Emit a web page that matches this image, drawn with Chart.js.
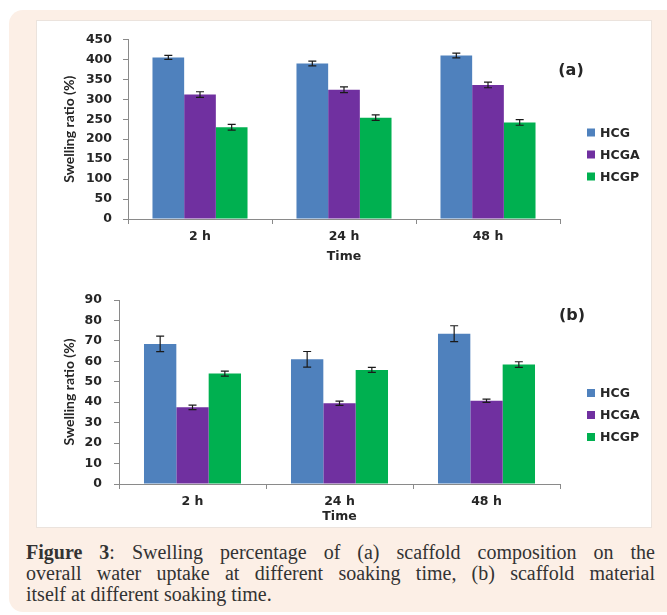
<!DOCTYPE html>
<html>
<head>
<meta charset="utf-8">
<script src="https://cdn.jsdelivr.net/npm/chart.js@4.4.1/dist/chart.umd.min.js"></script>
<style>
  html, body { margin: 0; padding: 0; background: #fff; }
  body { width: 667px; height: 615px; position: relative; overflow: hidden; }
  #frame { position: absolute; left: 9px; top: 10px; width: 700px; height: 602px; background: #fcefe6; border-radius: 14px; }
  #panel { position: absolute; left: 37px; top: 21px; width: 614px; height: 506px; background: #fff; box-shadow: 0 0 0 1px #ebe3dd; }
  .chart-box { position: absolute; left: 37px; width: 614px; }
  #box-a { top: 21px; height: 250px; }
  #box-b { top: 278px; height: 249px; }
  #caption { position: absolute; left: 26px; top: 542px; width: 629px; font-family: 'Liberation Serif', serif; font-size: 20px; line-height: 21px; color: #333; }
  .ln { text-align: justify; text-align-last: justify; }
  .ln.last { text-align-last: left; }
</style>
</head>
<body>
<div id="frame"></div>
<div id="panel"></div>
<div class="chart-box" id="box-a"><canvas id="chart-a"></canvas></div>
<div class="chart-box" id="box-b"><canvas id="chart-b"></canvas></div>
<div id="caption">
  <div class="ln"><b>Figure 3</b>: Swelling percentage of (a) scaffold composition on the</div>
  <div class="ln">overall water uptake at different soaking time, (b) scaffold material</div>
  <div class="ln last">itself at different soaking time.</div>
</div>
<script>
// ---- data ----
const timeLabels = ['2 h', '24 h', '48 h'];
const seriesNames = ['HCG', 'HCGA', 'HCGP'];
const seriesColors = ['#4f81bd', '#7030a0', '#00b050'];

// (a) scaffold composition
const hcgA = [405, 390, 410];
const hcgaA = [312, 324, 336];
const hcgpA = [230, 254, 242];
const hcgErrA = [5, 6, 6];
const hcgaErrA = [7, 7, 7];
const hcgpErrA = [7, 7, 7];

// (b) scaffold material
const hcgB = [68.5, 61, 73.5];
const hcgaB = [37.5, 39.5, 40.7];
const hcgpB = [54, 55.8, 58.4];
const hcgErrB = [3.8, 3.8, 3.9];
const hcgaErrB = [1.1, 1.0, 0.8];
const hcgpErrB = [1.2, 1.2, 1.4];

const TEXT = '#262626';
const AXIS = '#8a8a8a';
const tickFont = { family: 'DejaVu Sans', size: 12.5, weight: 'bold' };

// error bars drawn from the y scale
const errorBars = {
  id: 'errorBars',
  afterDatasetsDraw(chart) {
    const { ctx } = chart;
    const y = chart.scales.y;
    ctx.save();
    ctx.strokeStyle = '#1a1a1a';
    ctx.lineWidth = 1.2;
    chart.data.datasets.forEach((ds, i) => {
      chart.getDatasetMeta(i).data.forEach((bar, j) => {
        const v = ds.data[j], e = ds.errors[j];
        const top = y.getPixelForValue(v + e), bot = y.getPixelForValue(v - e);
        const x = bar.x, w = 4;
        ctx.beginPath();
        ctx.moveTo(x, top); ctx.lineTo(x, bot);
        ctx.moveTo(x - w, top); ctx.lineTo(x + w, top);
        ctx.moveTo(x - w, bot); ctx.lineTo(x + w, bot);
        ctx.stroke();
      });
    });
    ctx.restore();
  }
};

// legend + panel tag to the right of the plot
const sideDecor = {
  id: 'sideDecor',
  afterDraw(chart, args, opts) {
    const { ctx, chartArea: ca } = chart;
    ctx.save();
    ctx.fillStyle = TEXT;
    ctx.textBaseline = 'middle';
    ctx.textAlign = 'center';
    ctx.font = 'bold 16px "DejaVu Sans"';
    ctx.fillText(opts.tag, ca.right + opts.tagDx, ca.top + opts.tagDy);
    ctx.font = 'bold 12.5px "DejaVu Sans"';
    ctx.textAlign = 'left';
    chart.data.datasets.forEach((ds, i) => {
      const yy = ca.top + 93 + i * 22;
      ctx.fillStyle = ds.backgroundColor;
      ctx.fillRect(ca.right + 27, yy - 4, 8, 8);
      ctx.fillStyle = TEXT;
      ctx.fillText(ds.label, ca.right + 40, yy + 1);
    });
    ctx.restore();
  }
};

function makeChart(id, values, errs, yMax, yStep, tag, geo) {
  const datasets = values.map((vals, i) => ({
    label: seriesNames[i],
    data: vals,
    errors: errs[i],
    backgroundColor: seriesColors[i],
    borderWidth: 0,
    barPercentage: 1,
    categoryPercentage: 0.66
  }));
  return new Chart(document.getElementById(id), {
    type: 'bar',
    data: { labels: timeLabels, datasets },
    plugins: [errorBars, sideDecor],
    options: {
      responsive: true, maintainAspectRatio: false, animation: false,
      layout: { padding: { top: geo.top, right: 91, bottom: geo.bottom, left: 0 } },
      plugins: {
        legend: { display: false },
        tooltip: { enabled: false },
        sideDecor: { tag, tagDx: geo.tagDx, tagDy: geo.tagDy }
      },
      scales: {
        x: {
          grid: { display: true, drawOnChartArea: false, drawTicks: true, tickLength: 5, color: AXIS, offset: true },
          border: { color: AXIS },
          ticks: { color: TEXT, font: tickFont, padding: 5 },
          title: { display: true, text: 'Time', color: TEXT, font: tickFont, padding: { top: 0, bottom: geo.timePad } },
          afterFit: s => { s.height = geo.xH; }
        },
        y: {
          min: 0, max: yMax,
          grid: { display: true, drawOnChartArea: false, drawTicks: true, tickLength: 5, color: AXIS },
          border: { color: AXIS },
          ticks: { stepSize: yStep, color: TEXT, font: tickFont, padding: geo.tickPad },
          title: { display: true, text: 'Swelling ratio (%)', color: TEXT, font: { family: 'Lato', size: 14, weight: 'bold' }, padding: { top: 24, bottom: 0 } },
          afterFit: s => { s.width = geo.yW; }
        }
      }
    }
  });
}

makeChart('chart-a', [hcgA, hcgaA, hcgpA], [hcgErrA, hcgaErrA, hcgpErrA], 450, 50, '(a)',
  { top: 14, bottom: 7, xH: 45, timePad: 0, yW: 91, tickPad: 11, tagDx: 11, tagDy: 31 });
makeChart('chart-b', [hcgB, hcgaB, hcgpB], [hcgErrB, hcgaErrB, hcgpErrB], 90, 10, '(b)',
  { top: 22, bottom: 3, xH: 40, timePad: 0, yW: 82, tickPad: 12, tagDx: 12, tagDy: 16 });
</script>
</body>
</html>
